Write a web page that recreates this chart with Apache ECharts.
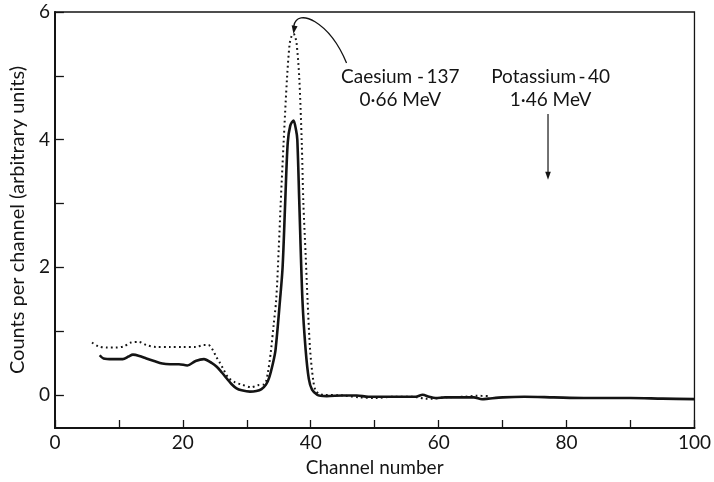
<!DOCTYPE html>
<html>
<head>
<meta charset="utf-8">
<script src="https://cdn.jsdelivr.net/npm/echarts@6/dist/echarts.min.js"></script>
<style>
  html, body { margin: 0; padding: 0; background: #fff; }
  #chart { width: 714px; height: 482px; }
</style>
</head>
<body>
<div id="chart"></div>
<script>
// Spectrum traced with the full line
const solidChannels = [7, 7.6, 9, 10.6, 11.5, 12.2, 13.2, 14.3, 15.5, 16.8, 18, 19.4, 20.7, 22.0, 23.3, 24.5, 25.3, 26.1, 27.0, 27.6, 28.4, 29.2, 30.5, 31.5, 32.3, 33.0, 33.5, 34.1, 34.5, 35.2, 35.6, 36.0, 36.4, 36.8, 37.3, 37.7, 37.9, 38.2, 38.7, 39.2, 39.7, 40.2, 41.0, 41.5, 42.5, 45, 47.2, 49, 53, 56.4, 57.5, 58.5, 59.5, 61, 63.6, 65.5, 66.8, 67.8, 70, 73.4, 78, 82.7, 90, 95, 100];
const solidCounts   = [0.62, 0.57, 0.56, 0.56, 0.60, 0.63, 0.61, 0.57, 0.53, 0.49, 0.48, 0.48, 0.46, 0.53, 0.56, 0.50, 0.44, 0.35, 0.24, 0.17, 0.10, 0.07, 0.05, 0.06, 0.09, 0.16, 0.27, 0.50, 0.71, 1.49, 2.0, 3.0, 3.95, 4.22, 4.30, 4.15, 4.0, 3.05, 1.49, 0.71, 0.25, 0.08, 0.0, -0.015, -0.02, -0.01, -0.01, -0.03, -0.03, -0.03, 0.0, -0.03, -0.05, -0.04, -0.04, -0.04, -0.07, -0.06, -0.04, -0.03, -0.04, -0.05, -0.05, -0.06, -0.067];

// Spectrum traced with the dotted line
const dottedChannels = [5.8, 6.8, 8.1, 9.5, 10.8, 11.9, 13.1, 14.3, 15.8, 18, 20, 22, 23.3, 24.0, 24.7, 25.2, 25.8, 26.3, 27.1, 28.1, 29.2, 30.7, 31.7, 32.8, 33.3, 33.8, 34.2, 34.6, 35.0, 35.3, 35.75, 36.3, 36.7, 37.0, 37.3, 37.55, 37.8, 38.2, 38.6, 38.85, 39.2, 39.5, 39.9, 40.4, 40.8, 41.5, 42, 45, 47.7, 50, 53, 56, 58, 59, 61, 64, 66, 67.7];
const dottedCounts   = [0.82, 0.76, 0.74, 0.74, 0.76, 0.82, 0.83, 0.78, 0.75, 0.75, 0.75, 0.75, 0.78, 0.78, 0.70, 0.60, 0.50, 0.41, 0.27, 0.20, 0.16, 0.12, 0.15, 0.17, 0.35, 0.71, 1.1, 1.49, 2.3, 3.0, 3.94, 4.98, 5.5, 5.62, 5.66, 5.62, 5.5, 4.98, 3.94, 3.0, 2.2, 1.49, 0.71, 0.22, 0.06, 0.01, 0.0, -0.01, -0.04, -0.05, -0.03, -0.03, -0.06, -0.06, -0.04, -0.03, -0.015, -0.02];

// Axis ticks and labels
const xTickValues  = [0, 10, 20, 30, 40, 50, 60, 70, 80, 90, 100];
const xLabelValues = [0, 20, 40, 60, 80, 100];
const yTickValues  = [0, 1, 2, 3, 4, 5, 6];
const yLabelValues = [0, 2, 4, 6];

// Annotations (data coordinates)
const caesiumText = 'Caesium -\u2009137\n0\u00b766 MeV';
const caesiumTextAt = [54.0, 4.80];
const caesiumCurve = { from: [45.6, 5.20], cp1: [42.9, 5.85], cp2: [37.9, 6.08], to: [37.35, 5.78], tip: [37.3, 5.66] };
const potassiumText = 'Potassium\u2009-\u200940\n1\u00b746 MeV';
const potassiumTextAt = [77.5, 4.80];
const potassiumArrow = { from: [77.1, 4.40], to: [77.1, 3.48], tip: [77.1, 3.37] };

const ink = '#141414';
const font = 'Lato, "Open Sans", sans-serif';

const pairs = (xs, ys) => xs.map((x, i) => [x, ys[i]]);

const chart = echarts.init(document.getElementById('chart'), null, { renderer: 'canvas' });

chart.setOption({
  animation: false,
  backgroundColor: '#fff',
  grid: {
    left: 54, right: 12, top: 12, bottom: 53,
    show: true, borderColor: ink, borderWidth: 1.3, backgroundColor: 'transparent'
  },
  xAxis: {
    type: 'value', min: 0, max: 100,
    name: 'Channel number', nameLocation: 'middle', nameGap: 30,
    nameTextStyle: { fontFamily: font, fontSize: 19, color: ink },
    axisLine: { show: true, onZero: false, lineStyle: { color: ink, width: 2 } },
    axisTick: { show: true, inside: true, length: 8, customValues: xTickValues, lineStyle: { color: ink, width: 1.3 } },
    axisLabel: { customValues: xLabelValues, margin: 5, fontFamily: font, fontSize: 19, color: ink },
    splitLine: { show: false }
  },
  yAxis: {
    type: 'value', min: -0.52, max: 6,
    name: 'Counts per channel (arbitrary units)', nameLocation: 'middle', nameGap: 25,
    nameTextStyle: { fontFamily: font, fontSize: 20, color: ink },
    axisLine: { show: true, onZero: false, lineStyle: { color: ink, width: 2 } },
    axisTick: { show: true, inside: true, length: 9, customValues: yTickValues, lineStyle: { color: ink, width: 1.3 } },
    axisLabel: { customValues: yLabelValues, margin: 5, fontFamily: font, fontSize: 19, color: ink },
    splitLine: { show: false }
  },
  series: [
    {
      name: 'dotted',
      type: 'line',
      data: pairs(dottedChannels, dottedCounts),
      showSymbol: false, smooth: 0.3,
      lineStyle: { color: ink, width: 2, type: [1.8, 3.2], cap: 'butt' },
      z: 2
    },
    {
      name: 'solid',
      type: 'line',
      data: pairs(solidChannels, solidCounts),
      showSymbol: false, smooth: 0.3,
      lineStyle: { color: ink, width: 2.6 },
      z: 3
    }
  ]
});

const px = (p) => chart.convertToPixel({ gridIndex: 0 }, p);

function arrowHead(tip, from, len, half) {
  const dx = tip[0] - from[0], dy = tip[1] - from[1];
  const d = Math.hypot(dx, dy) || 1;
  const ux = dx / d, uy = dy / d;
  const bx = tip[0] - ux * len, by = tip[1] - uy * len;
  return [tip, [bx - uy * half, by + ux * half], [bx + uy * half, by - ux * half]];
}

const cFrom = px(caesiumCurve.from), cCp1 = px(caesiumCurve.cp1), cCp2 = px(caesiumCurve.cp2),
      cTo = px(caesiumCurve.to), cTip = px(caesiumCurve.tip);
const kFrom = px(potassiumArrow.from), kTo = px(potassiumArrow.to), kTip = px(potassiumArrow.tip);
const cText = px(caesiumTextAt), kText = px(potassiumTextAt);

chart.setOption({
  graphic: [
    {
      type: 'bezierCurve', silent: true, z: 10,
      shape: { x1: cFrom[0], y1: cFrom[1], cpx1: cCp1[0], cpy1: cCp1[1], cpx2: cCp2[0], cpy2: cCp2[1], x2: cTo[0], y2: cTo[1] },
      style: { stroke: ink, lineWidth: 1.3, fill: null }
    },
    {
      type: 'polygon', silent: true, z: 10,
      shape: { points: arrowHead(cTip, cCp2, 8, 3) },
      style: { fill: ink }
    },
    {
      type: 'line', silent: true, z: 10,
      shape: { x1: kFrom[0], y1: kFrom[1], x2: kTo[0], y2: kTo[1] },
      style: { stroke: ink, lineWidth: 1.2 }
    },
    {
      type: 'polygon', silent: true, z: 10,
      shape: { points: arrowHead(kTip, kFrom, 8, 2.8) },
      style: { fill: ink }
    },
    {
      type: 'text', silent: true, z: 10, x: cText[0], y: cText[1],
      style: { text: caesiumText, fontFamily: font, fontSize: 19, fill: ink, align: 'center', verticalAlign: 'middle', lineHeight: 23 }
    },
    {
      type: 'text', silent: true, z: 10, x: kText[0], y: kText[1],
      style: { text: potassiumText, fontFamily: font, fontSize: 19, fill: ink, align: 'center', verticalAlign: 'middle', lineHeight: 23 }
    }
  ]
});
</script>
</body>
</html>
